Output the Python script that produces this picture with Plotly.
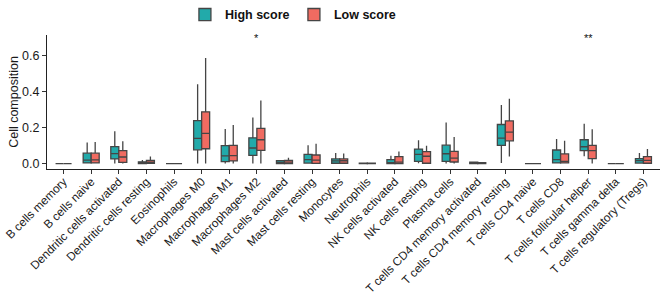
import plotly.graph_objects as go

categories = ["B cells memory", "B cells naive", "Dendritic cells activated", "Dendritic cells resting",
              "Eosinophils", "Macrophages M0", "Macrophages M1", "Macrophages M2",
              "Mast cells activated", "Mast cells resting", "Monocytes", "Neutrophils",
              "NK cells activated", "NK cells resting", "Plasma cells",
              "T cells CD4 memory activated", "T cells CD4 memory resting", "T cells CD4 naive",
              "T cells CD8", "T cells follicular helper", "T cells gamma delta",
              "T cells regulatory (Tregs)"]

# High score group box statistics
high_lo  = [0, 0,     0,     0,     0, 0,     0,     0,     0, 0.002, 0.001, 0, 0,     0.002, 0,     0, 0.004, 0, 0,     0.041, 0, 0]
high_q1  = [0, 0.004, 0.026, 0,     0, 0.077, 0.011, 0.046, 0, 0.003, 0.002, 0, 0,     0.013, 0.012, 0, 0.102, 0, 0.004, 0.072, 0, 0.003]
high_med = [0, 0.02,  0.056, 0.003, 0, 0.141, 0.043, 0.087, 0.007, 0.022, 0.015, 0.001, 0.006, 0.052, 0.055, 0.003, 0.142, 0, 0.022, 0.094, 0, 0.017]
high_q3  = [0, 0.058, 0.095, 0.01,  0, 0.24,  0.1,   0.144, 0.017, 0.052, 0.026, 0.003, 0.022, 0.081, 0.103, 0.008, 0.218, 0, 0.076, 0.133, 0, 0.028]
high_hi  = [0, 0.118, 0.18,  0.02,  0, 0.443, 0.193, 0.257, 0.02, 0.102, 0.059, 0.005, 0.044, 0.13,  0.229, 0.012, 0.327, 0, 0.137, 0.222, 0, 0.059]

# Low score group box statistics
low_lo  = [0, 0,     0,     0,     0, 0,     0,     0,     0, 0,     0.001, 0, 0,     0.002, 0,     0, 0.04,  0, 0,     0,     0, 0]
low_q1  = [0, 0.004, 0.007, 0.002, 0, 0.083, 0.015, 0.074, 0, 0.001, 0.002, 0, 0,     0.002, 0.009, 0, 0.127, 0, 0.004, 0.028, 0, 0.002]
low_med = [0, 0.021, 0.037, 0.008, 0, 0.169, 0.045, 0.133, 0.008, 0.02, 0.016, 0.001, 0.008, 0.041, 0.031, 0.002, 0.176, 0, 0.013, 0.072, 0, 0.018]
low_q3  = [0, 0.058, 0.072, 0.018, 0, 0.289, 0.102, 0.196, 0.018, 0.048, 0.026, 0.003, 0.039, 0.067, 0.068, 0.005, 0.238, 0, 0.054, 0.102, 0, 0.039]
low_hi  = [0, 0.12,  0.124, 0.04,  0, 0.589, 0.215, 0.352, 0.033, 0.111, 0.056, 0.005, 0.067, 0.1,   0.148, 0.009, 0.361, 0, 0.128, 0.191, 0, 0.081]

sig_labels = {"Macrophages M2": "*", "T cells follicular helper": "**"}
sig_y = 0.70

teal = "#22AAAA"
red = "#F06B61"
line_col = "#454545"

fig = go.Figure()
for name, col, lo, q1, med, q3, hi in [
    ("High score", teal, high_lo, high_q1, high_med, high_q3, high_hi),
    ("Low score", red, low_lo, low_q1, low_med, low_q3, low_hi),
]:
    fig.add_trace(go.Box(
        name=name, x=categories, lowerfence=lo, q1=q1, median=med, q3=q3, upperfence=hi,
        fillcolor=col, line=dict(color=line_col, width=1.3), whiskerwidth=0,
        boxpoints=False, hoverinfo="skip",
    ))

for cat, lab in sig_labels.items():
    fig.add_annotation(x=cat, y=sig_y, text=lab, showarrow=False,
                       font=dict(size=11, color="#111", family="Liberation Sans, Arial"),
                       yanchor="middle")

fig.update_layout(
    width=663, height=294,
    margin=dict(l=47, r=3, t=35, b=125, autoexpand=False),
    paper_bgcolor="white", plot_bgcolor="white",
    boxmode="group", boxgap=0.42, boxgroupgap=0,
    font=dict(family="Liberation Sans, Arial", size=12.5, color="#1a1a1a"),
    showlegend=True,
    legend=dict(orientation="h", x=0.225, xanchor="left", y=1.15, yanchor="middle",
                font=dict(size=12.5, weight="bold", color="#111"),
                itemwidth=30, entrywidth=64, tracegroupgap=0, bgcolor="rgba(0,0,0,0)"),
    xaxis=dict(type="category", range=[-0.6, 21.6], tickangle=-45, automargin=False,
               showline=True, linecolor="#222", linewidth=1.2,
               ticks="outside", ticklen=4, tickcolor="#333", showgrid=False,
               ticklabelstandoff=-4,
               tickfont=dict(size=11.8, color="#1a1a1a")),
    yaxis=dict(range=[-0.03, 0.717], tickvals=[0, 0.2, 0.4, 0.6], automargin=False,
               ticktext=["0.0", "0.2", "0.4", "0.6"],
               showline=True, linecolor="#222", linewidth=1.2,
               ticks="outside", ticklen=4, tickcolor="#333", showgrid=False,
               zeroline=False, tickfont=dict(size=12.5, color="#1a1a1a"),
               title=dict(text="Cell composition", font=dict(size=12.5), standoff=0)),
)

fig.write_html("out.html", config={"displayModeBar": False},
               post_script="document.body.style.margin='0';document.body.style.padding='0';")
